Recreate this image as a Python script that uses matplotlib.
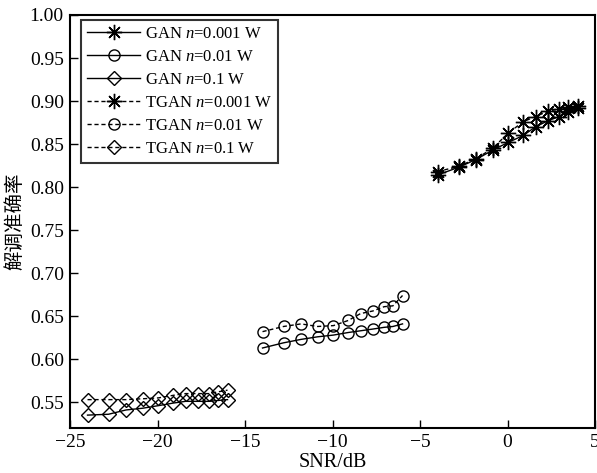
import matplotlib
matplotlib.use("Agg")
import matplotlib.pyplot as plt

plt.rcParams['font.family'] = ['Liberation Serif', 'DejaVu Serif']
plt.rcParams['mathtext.fontset'] = 'custom'
plt.rcParams['mathtext.it'] = 'Liberation Serif:italic'
plt.rcParams['mathtext.rm'] = 'Liberation Serif'

# SNR values (dB)
snr_star = [-4.0, -2.8, -1.8, -0.85, 0.05, 0.9, 1.6, 2.3, 2.95, 3.45, 4.0]
snr_circ = [-14.0, -12.8, -11.8, -10.85, -9.95, -9.1, -8.4, -7.7, -7.05, -6.55, -6.0]
snr_diam = [-24.0, -22.8, -21.8, -20.85, -19.95, -19.1, -18.4, -17.7, -17.05, -16.55, -16.0]

gan_0001 = [0.814, 0.823, 0.832, 0.843, 0.852, 0.860, 0.870, 0.877, 0.882, 0.887, 0.892]
tgan_0001 = [0.818, 0.824, 0.833, 0.845, 0.863, 0.876, 0.882, 0.888, 0.891, 0.893, 0.894]
gan_001 = [0.613, 0.619, 0.623, 0.626, 0.628, 0.631, 0.633, 0.635, 0.637, 0.638, 0.641]
tgan_001 = [0.632, 0.638, 0.641, 0.638, 0.639, 0.645, 0.653, 0.656, 0.661, 0.662, 0.674]
gan_01 = [0.535, 0.536, 0.541, 0.543, 0.546, 0.549, 0.551, 0.551, 0.551, 0.552, 0.553]
tgan_01 = [0.553, 0.553, 0.553, 0.554, 0.555, 0.558, 0.560, 0.560, 0.560, 0.562, 0.564]

labels = [r"GAN $n$=0.001 W", r"GAN $n$=0.01 W", r"GAN $n$=0.1 W",
          r"TGAN $n$=0.001 W", r"TGAN $n$=0.01 W", r"TGAN $n$=0.1 W"]

xticks = [-25, -20, -15, -10, -5, 0, 5]
yticks = [0.55, 0.60, 0.65, 0.70, 0.75, 0.80, 0.85, 0.90, 0.95, 1.00]

fig = plt.figure(figsize=(5.97, 4.73), dpi=100)
ax = fig.add_axes([0.1173, 0.0951, 0.8794, 0.8732])

star = (8, 2, 0)
common = dict(color='black', lw=1.0, mfc='none', mew=1.0)
dash = (0, (3, 2))

ax.plot(snr_star, gan_0001, '-', marker=star, ms=11, label=labels[0], **common)
ax.plot(snr_circ, gan_001, '-', marker='o', ms=8, label=labels[1], **common)
ax.plot(snr_diam, gan_01, '-', marker='D', ms=7, label=labels[2], **common)
ax.plot(snr_star, tgan_0001, ls=dash, marker=star, ms=11, label=labels[3], **common)
ax.plot(snr_circ, tgan_001, ls=dash, marker='o', ms=8, label=labels[4], **common)
ax.plot(snr_diam, tgan_01, ls=dash, marker='D', ms=7, label=labels[5], **common)

ax.set_xlim(-25, 5)
ax.set_ylim(0.52, 1.0)
ax.set_xticks(xticks)
ax.set_yticks(yticks)
ax.set_xticklabels([f"{t}".replace('-', '\u2212') for t in xticks])
ax.set_yticklabels([f"{t:.2f}" for t in yticks])
ax.tick_params(direction='in', length=6, width=1.0, labelsize=14, pad=4.5,
               top=False, right=False)
for s in ax.spines.values():
    s.set_linewidth(1.5)

ax.set_xlabel("SNR/dB", fontsize=14.5, labelpad=1)
ax.set_ylabel("解调准确率", fontsize=14, family=['Noto Sans CJK SC', 'DejaVu Sans'], labelpad=3)

leg = ax.legend(loc='upper left', bbox_to_anchor=(11 / 525, 1 - 5 / 413),
                fontsize=12, frameon=True, fancybox=False,
                edgecolor='black', handlelength=3.2, labelspacing=0.42,
                borderpad=0.35, handletextpad=0.3, borderaxespad=0.0)
leg.get_frame().set_linewidth(1.5)

fig.savefig("out.png", dpi=100)
